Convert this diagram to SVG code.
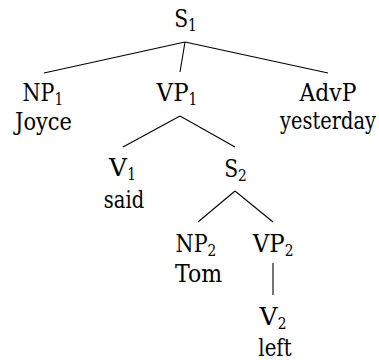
<svg xmlns="http://www.w3.org/2000/svg" width="379" height="360" viewBox="0 0 379 360">
  <style>
    text { font-family: "DejaVu Serif", "Liberation Serif", serif; fill: #000; }
    .lbl { font-size: 23.5px; }
    .w { font-size: 23.5px; text-anchor: middle; }
    .sub { font-size: 16.5px; }
    .edge { stroke: #000; stroke-width: 1.1; fill: none; }
  </style>
  <rect width="379" height="360" fill="#fff"/>

  <!-- tree edges -->
  <g id="connectors">
    <line class="edge" x1="185" y1="42" x2="44" y2="73"/>
    <line class="edge" x1="185" y1="42" x2="180" y2="72"/>
    <line class="edge" x1="185" y1="42" x2="328" y2="73"/>
    <line class="edge" x1="180" y1="116" x2="123" y2="147"/>
    <line class="edge" x1="180" y1="116" x2="235" y2="147"/>
    <line class="edge" x1="235" y1="191" x2="198" y2="222"/>
    <line class="edge" x1="235" y1="191" x2="273" y2="222"/>
    <line class="edge" x1="273" y1="263" x2="273" y2="295"/>
  </g>

  <!-- nodes: category label, subscript index, and word below -->
  <g id="S1">
    <text class="lbl" x="174.2" y="27" textLength="13.9" lengthAdjust="spacingAndGlyphs">S</text>
    <text class="sub" x="188.1" y="31" textLength="8.75" lengthAdjust="spacingAndGlyphs">1</text>
  </g>
  <g id="NP1">
    <text class="lbl" x="22.5" y="101" textLength="31.95" lengthAdjust="spacingAndGlyphs">NP</text>
    <text class="sub" x="54.5" y="105" textLength="8.75" lengthAdjust="spacingAndGlyphs">1</text>
    <text class="w" x="43.5" y="130" textLength="56.9" lengthAdjust="spacingAndGlyphs">Joyce</text>
  </g>
  <g id="VP1">
    <text class="lbl" x="156.6" y="101" textLength="31.95" lengthAdjust="spacingAndGlyphs">VP</text>
    <text class="sub" x="188.6" y="105" textLength="8.75" lengthAdjust="spacingAndGlyphs">1</text>
  </g>
  <g id="AdvP">
    <text class="w" x="328" y="101" textLength="56.95" lengthAdjust="spacingAndGlyphs">AdvP</text>
    <text class="w" x="328" y="129" textLength="95.8" lengthAdjust="spacingAndGlyphs">yesterday</text>
  </g>
  <g id="V1">
    <text class="lbl" x="109.1" y="176" textLength="18.05" lengthAdjust="spacingAndGlyphs">V</text>
    <text class="sub" x="127.2" y="180" textLength="8.75" lengthAdjust="spacingAndGlyphs">1</text>
    <text class="w" x="124" y="208" textLength="40.3" lengthAdjust="spacingAndGlyphs">said</text>
  </g>
  <g id="S2">
    <text class="lbl" x="224.2" y="177" textLength="13.9" lengthAdjust="spacingAndGlyphs">S</text>
    <text class="sub" x="238.1" y="181" textLength="8.75" lengthAdjust="spacingAndGlyphs">2</text>
  </g>
  <g id="NP2">
    <text class="lbl" x="175.6" y="252" textLength="31.95" lengthAdjust="spacingAndGlyphs">NP</text>
    <text class="sub" x="207.6" y="256" textLength="8.75" lengthAdjust="spacingAndGlyphs">2</text>
    <text class="w" x="198.5" y="282" textLength="47.2" lengthAdjust="spacingAndGlyphs">Tom</text>
  </g>
  <g id="VP2">
    <text class="lbl" x="252.7" y="252" textLength="31.95" lengthAdjust="spacingAndGlyphs">VP</text>
    <text class="sub" x="284.7" y="256" textLength="8.75" lengthAdjust="spacingAndGlyphs">2</text>
  </g>
  <g id="V2">
    <text class="lbl" x="259.6" y="325" textLength="18.05" lengthAdjust="spacingAndGlyphs">V</text>
    <text class="sub" x="277.7" y="329" textLength="8.75" lengthAdjust="spacingAndGlyphs">2</text>
    <text class="w" x="275" y="356" textLength="33.3" lengthAdjust="spacingAndGlyphs">left</text>
  </g>
</svg>
